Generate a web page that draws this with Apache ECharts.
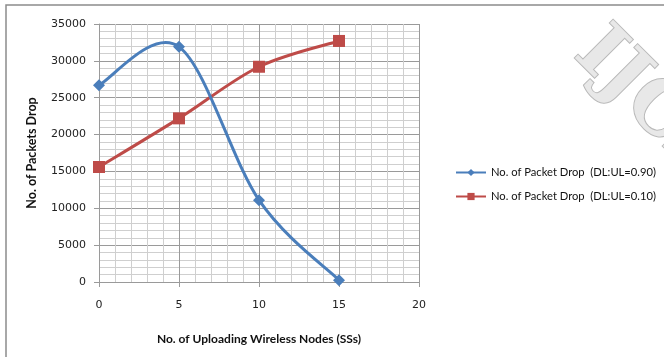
<!DOCTYPE html>
<html>
<head>
<meta charset="utf-8">
<script src="https://cdn.jsdelivr.net/npm/echarts@6/dist/echarts.min.js"></script>
<style>
  html, body { margin: 0; padding: 0; background: #fff; }
  #chart { width: 664px; height: 357px; }
</style>
</head>
<body>
<div id="chart"></div>
<script>
// Number of uploading wireless nodes (SSs)
const nodes = [0, 5, 10, 15];
// Packet drops for each downlink:uplink ratio
const dropHighDL = [26700, 31900, 11100, 250];
const dropLowDL = [15600, 22200, 29200, 32700];
const seriesNames = ['No. of Packet Drop  (DL:UL=0.90)', 'No. of Packet Drop  (DL:UL=0.10)'];
const xTitle = 'No. of Uploading Wireless Nodes (SSs)';
const yTitle = 'No. of Packets Drop';

const BLUE = '#4A7EBB';
const RED = '#BE4B48';
const MAJOR = '#9a9a9a';
const MINOR = '#cfcfcf';
const TICK_FONT = '"DejaVu Sans", sans-serif';
const TITLE_FONT = 'Lato, "Open Sans", sans-serif';

const chart = echarts.init(document.getElementById('chart'), null, { renderer: 'canvas' });

const toPairs = (xs, ys) => xs.map((x, i) => [x, ys[i]]);

// Spreadsheet-style smoothed line: cubic Bezier segments whose control
// points follow the neighbouring points (Catmull-Rom, 1/6 tension).
function smoothSegment(pairs, color) {
  return function (params, api) {
    const i = params.dataIndex;
    if (i >= pairs.length - 1) return null;
    const p = k => api.coord(pairs[Math.max(0, Math.min(pairs.length - 1, k))]);
    const p0 = p(i - 1), p1 = p(i), p2 = p(i + 1), p3 = p(i + 2);
    return {
      type: 'bezierCurve',
      shape: {
        x1: p1[0], y1: p1[1],
        x2: p2[0], y2: p2[1],
        cpx1: p1[0] + (p2[0] - p0[0]) / 6,
        cpy1: p1[1] + (p2[1] - p0[1]) / 6,
        cpx2: p2[0] - (p3[0] - p1[0]) / 6,
        cpy2: p2[1] - (p3[1] - p1[1]) / 6
      },
      style: { fill: null, stroke: color, lineWidth: 3, lineCap: 'round' },
      silent: true
    };
  };
}

const highPairs = toPairs(nodes, dropHighDL);
const lowPairs = toPairs(nodes, dropLowDL);

chart.setOption({
  animation: false,
  backgroundColor: '#fff',
  grid: { left: 99, right: 245, top: 24, bottom: 75, containLabel: false },
  xAxis: {
    type: 'value',
    min: 0, max: 20, interval: 5,
    name: xTitle,
    nameLocation: 'middle',
    nameGap: 51,
    nameTextStyle: { fontFamily: TITLE_FONT, fontWeight: 'bold', fontSize: 12, color: '#111' },
    axisLine: { show: true, onZero: false, lineStyle: { color: MAJOR, width: 1 } },
    axisTick: { show: true, length: 5, lineStyle: { color: MAJOR } },
    axisLabel: { margin: 18, fontFamily: TICK_FONT, fontSize: 11, color: '#222' },
    splitLine: { show: true, lineStyle: { color: MAJOR, width: 1 } },
    minorTick: { show: false, splitNumber: 5 },
    minorSplitLine: { show: true, lineStyle: { color: MINOR, width: 1 } }
  },
  yAxis: {
    type: 'value',
    min: 0, max: 35000, interval: 5000,
    name: yTitle,
    nameLocation: 'middle',
    nameGap: 61,
    nameTextStyle: { fontFamily: TITLE_FONT, fontWeight: 'bold', fontSize: 12.5, color: '#111' },
    axisLine: { show: true, lineStyle: { color: MAJOR, width: 1 } },
    axisTick: { show: true, length: 5, lineStyle: { color: MAJOR } },
    axisLabel: { margin: 13, fontFamily: TICK_FONT, fontSize: 11, color: '#222', formatter: v => String(v) },
    splitLine: { show: true, lineStyle: { color: MAJOR, width: 1 } },
    minorTick: { show: false, splitNumber: 5 },
    minorSplitLine: { show: true, lineStyle: { color: MINOR, width: 1 } }
  },
  legend: {
    orient: 'vertical',
    left: 450,
    top: 162,
    itemGap: 13,
    itemWidth: 30,
    itemHeight: 9,
    textStyle: { fontFamily: TITLE_FONT, fontSize: 11.2, color: '#111' },
    data: [
      { name: seriesNames[0], lineStyle: { width: 2, opacity: 1, color: BLUE } },
      { name: seriesNames[1], lineStyle: { width: 2, opacity: 1, color: RED } }
    ]
  },
  series: [
    {
      type: 'custom',
      renderItem: smoothSegment(highPairs, BLUE),
      data: highPairs,
      z: 3
    },
    {
      type: 'custom',
      renderItem: smoothSegment(lowPairs, RED),
      data: lowPairs,
      z: 2
    },
    {
      name: seriesNames[0],
      type: 'line',
      data: highPairs,
      symbol: 'diamond',
      symbolSize: 12,
      lineStyle: { color: BLUE, width: 0, opacity: 0 },
      itemStyle: { color: BLUE },
      z: 4
    },
    {
      name: seriesNames[1],
      type: 'line',
      data: lowPairs,
      symbol: 'rect',
      symbolSize: 12,
      lineStyle: { color: RED, width: 0, opacity: 0 },
      itemStyle: { color: RED },
      z: 4
    }
  ],
  graphic: [
    {
      type: 'rect',
      shape: { x: 6, y: 5, width: 700, height: 400 },
      style: { fill: 'none', stroke: '#8c8c8c', lineWidth: 1.5 },
      silent: true,
      z: -1
    },
    {
      type: 'text',
      x: 586, y: 42,
      rotation: -Math.PI / 4,
      style: {
        text: 'IJCA',
        font: 'bold 74px "DejaVu Serif", serif',
        fill: '#e8e8e8',
        stroke: '#b9b9b9',
        lineWidth: 2,
        textAlign: 'left',
        textVerticalAlign: 'middle'
      },
      silent: true,
      z: 10
    }
  ]
});
</script>
</body>
</html>
